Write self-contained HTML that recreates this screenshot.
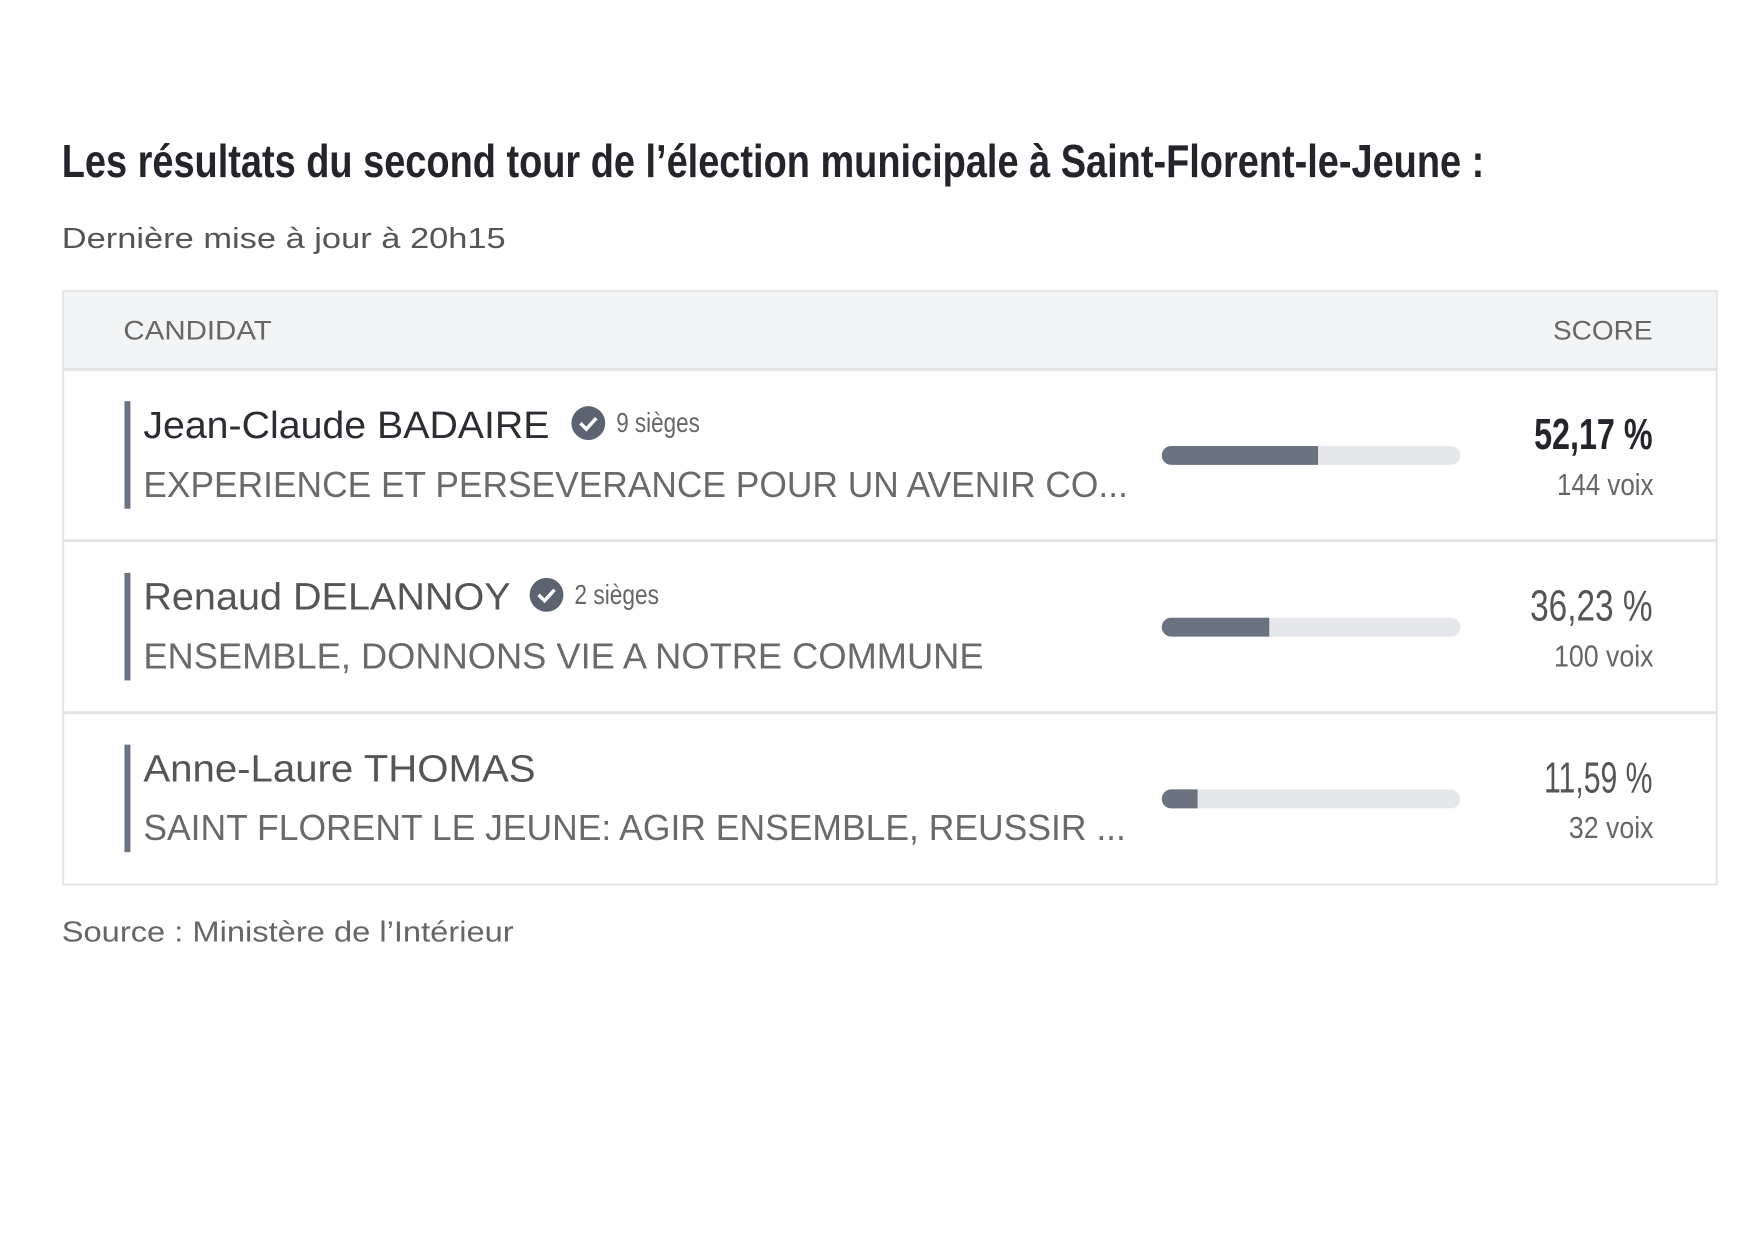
<!DOCTYPE html>
<html><head><meta charset="utf-8"><style>html,body{margin:0;padding:0;background:#fff}</style></head>
<body>
<svg width="1755" height="1240" viewBox="0 0 1755 1240" xmlns="http://www.w3.org/2000/svg" font-family="Liberation Sans, sans-serif">
<rect width="1755" height="1240" fill="#fff"/>
<g transform="scale(0.9955)">
<text x="62" y="178" font-family="Liberation Sans Narrow, Liberation Sans, sans-serif" font-weight="bold" font-size="47" fill="#23252b" textLength="1429" lengthAdjust="spacingAndGlyphs">Les résultats du second tour de l’élection municipale à Saint-Florent-le-Jeune :</text>
<text x="62" y="249" font-size="29" fill="#555" textLength="446" lengthAdjust="spacingAndGlyphs">Dernière mise à jour à 20h15</text>
<rect x="63.5" y="292.5" width="1661" height="596" fill="#fff" stroke="#e3e4e6" stroke-width="2"/>
<rect x="64.5" y="293.5" width="1659" height="77" fill="#f3f4f6"/>
<line x1="63" y1="371" x2="1725" y2="371" stroke="#e3e4e6" stroke-width="3"/>
<line x1="63" y1="543" x2="1725" y2="543" stroke="#e3e4e6" stroke-width="3"/>
<line x1="63" y1="716" x2="1725" y2="716" stroke="#e3e4e6" stroke-width="3"/>
<text x="124" y="341" font-size="27" fill="#666" textLength="149" lengthAdjust="spacingAndGlyphs">CANDIDAT</text>
<text x="1560" y="341" font-size="27" fill="#666" textLength="100" lengthAdjust="spacingAndGlyphs">SCORE</text>

<rect x="125" y="403" width="6" height="108" fill="#6b7280"/>
<text x="144" y="440" font-size="38" fill="#2b2d33" textLength="408" lengthAdjust="spacingAndGlyphs">Jean-Claude BADAIRE</text>
<circle cx="591" cy="425" r="17" fill="#5b6270"/>
<path d="M583 425 l6 6 l10 -11" stroke="#fff" stroke-width="3.5" fill="none"/>
<text x="619" y="434" font-family="Liberation Sans Narrow, Liberation Sans, sans-serif" font-size="28" fill="#666" textLength="84" lengthAdjust="spacingAndGlyphs">9 sièges</text>
<text x="144" y="499" font-size="36" fill="#6a6a6a" textLength="989" lengthAdjust="spacingAndGlyphs">EXPERIENCE ET PERSEVERANCE POUR UN AVENIR CO...</text>
<rect x="1167" y="448" width="300" height="19" rx="9.5" fill="#e6e7ea"/>
<path d="M1176.5 448 H1324 V467 H1176.5 A9.5 9.5 0 0 1 1176.5 448 Z" fill="#6b7280"/>
<text x="1660" y="451" text-anchor="end" font-family="Liberation Sans Narrow, Liberation Sans, sans-serif" font-weight="bold" font-size="44" fill="#23252b" textLength="119" lengthAdjust="spacingAndGlyphs">52,17 %</text>
<text x="1661" y="497" text-anchor="end" font-family="Liberation Sans Narrow, Liberation Sans, sans-serif" font-size="31" fill="#666" textLength="97" lengthAdjust="spacingAndGlyphs">144 voix</text>

<rect x="125" y="575.5" width="6" height="108" fill="#6b7280"/>
<text x="144" y="612.5" font-size="38" fill="#555" textLength="369" lengthAdjust="spacingAndGlyphs">Renaud DELANNOY</text>
<circle cx="549" cy="597.5" r="17" fill="#5b6270"/>
<path d="M541 597.5 l6 6 l10 -11" stroke="#fff" stroke-width="3.5" fill="none"/>
<text x="577" y="606.5" font-family="Liberation Sans Narrow, Liberation Sans, sans-serif" font-size="28" fill="#666" textLength="85" lengthAdjust="spacingAndGlyphs">2 sièges</text>
<text x="144" y="671.5" font-size="36" fill="#6a6a6a" textLength="844" lengthAdjust="spacingAndGlyphs">ENSEMBLE, DONNONS VIE A NOTRE COMMUNE</text>
<rect x="1167" y="620.5" width="300" height="19" rx="9.5" fill="#e6e7ea"/>
<path d="M1176.5 620.5 H1275 V639.5 H1176.5 A9.5 9.5 0 0 1 1176.5 620.5 Z" fill="#6b7280"/>
<text x="1660" y="623.5" text-anchor="end" font-family="Liberation Sans Narrow, Liberation Sans, sans-serif" font-size="44" fill="#555" textLength="123" lengthAdjust="spacingAndGlyphs">36,23 %</text>
<text x="1661" y="669.5" text-anchor="end" font-family="Liberation Sans Narrow, Liberation Sans, sans-serif" font-size="31" fill="#666" textLength="100" lengthAdjust="spacingAndGlyphs">100 voix</text>

<rect x="125" y="748" width="6" height="108" fill="#6b7280"/>
<text x="144" y="785" font-size="38" fill="#555" textLength="394" lengthAdjust="spacingAndGlyphs">Anne-Laure THOMAS</text>
<text x="144" y="844" font-size="36" fill="#6a6a6a" textLength="987" lengthAdjust="spacingAndGlyphs">SAINT FLORENT LE JEUNE: AGIR ENSEMBLE, REUSSIR ...</text>
<rect x="1167" y="793" width="300" height="19" rx="9.5" fill="#e6e7ea"/>
<path d="M1176.5 793 H1203 V812 H1176.5 A9.5 9.5 0 0 1 1176.5 793 Z" fill="#6b7280"/>
<text x="1660" y="796" text-anchor="end" font-family="Liberation Sans Narrow, Liberation Sans, sans-serif" font-size="44" fill="#555" textLength="109" lengthAdjust="spacingAndGlyphs">11,59 %</text>
<text x="1661" y="842" text-anchor="end" font-family="Liberation Sans Narrow, Liberation Sans, sans-serif" font-size="31" fill="#666" textLength="85" lengthAdjust="spacingAndGlyphs">32 voix</text>

<text x="62" y="946" font-size="29" fill="#666" textLength="454" lengthAdjust="spacingAndGlyphs">Source : Ministère de l’Intérieur</text>
</g>
</svg>
</body></html>
